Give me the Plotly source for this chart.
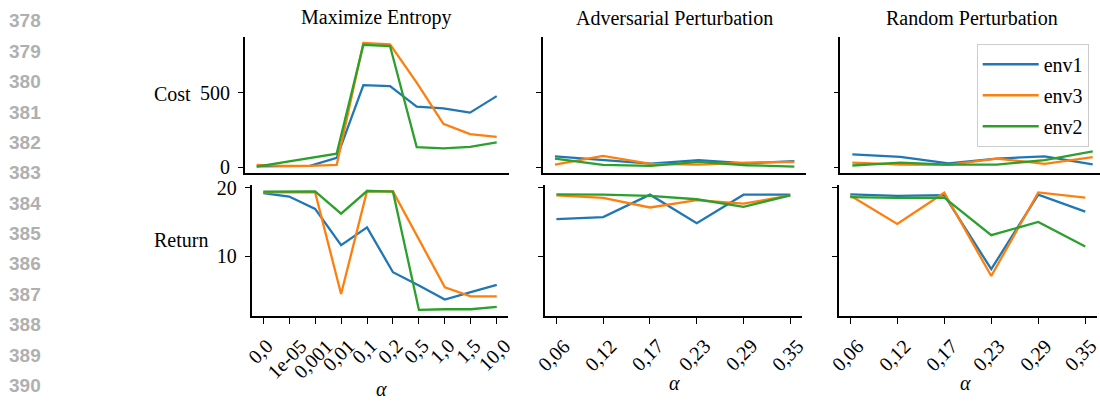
import plotly.graph_objects as go

W, H = 1100, 406

# ---------------- data ----------------
alpha_entropy = ["0,0", "1e-05", "0,001", "0,01", "0,1", "0,2", "0,5", "1,0", "1,5", "10,0"]
alpha_pert = ["0,06", "0,12", "0,17", "0,23", "0,29", "0,35"]

series_names = ["env1", "env3", "env2"]
series_colors = ["#1f77b4", "#ff7f0e", "#2ca02c"]

# Maximize Entropy
me_cost_env1 = [5, 6, 8, 63, 552, 545, 408, 395, 367, 478]
me_cost_env3 = [15, 8, 8, 15, 836, 826, 569, 291, 222, 204]
me_cost_env2 = [3, 32, 60, 91, 824, 815, 135, 126, 137, 167]
me_ret_env1 = [19.2, 18.7, 16.9, 11.6, 14.2, 7.65, 5.7, 3.66, 4.74, 5.8]
me_ret_env3 = [19.3, 19.3, 19.3, 4.46, 19.5, 19.45, 12.5, 5.45, 4.13, 4.13]
me_ret_env2 = [19.4, 19.4, 19.45, 16.2, 19.5, 19.4, 2.16, 2.25, 2.25, 2.6]

# Adversarial Perturbation
ap_cost_env1 = [73, 47, 24, 47, 26, 41]
ap_cost_env3 = [17, 76, 22, 17, 30, 35]
ap_cost_env2 = [58, 15, 9, 35, 13, 4]
ap_ret_env1 = [15.4, 15.7, 18.97, 14.8, 18.97, 18.97]
ap_ret_env3 = [18.87, 18.5, 17.1, 18.17, 17.65, 18.87]
ap_ret_env2 = [19.0, 18.97, 18.8, 18.3, 17.2, 18.87]

# Random Perturbation
rp_cost_env1 = [86, 69, 26, 58, 73, 19]
rp_cost_env3 = [30, 17, 15, 58, 22, 67]
rp_cost_env2 = [11, 30, 17, 17, 48, 106]
rp_ret_env1 = [19.0, 18.8, 18.9, 8.1, 18.97, 16.5]
rp_ret_env3 = [18.85, 14.7, 19.25, 7.1, 19.3, 18.55]
rp_ret_env2 = [18.6, 18.5, 18.55, 13.05, 15.0, 11.4]

titles = ["Maximize Entropy", "Adversarial Perturbation", "Random Perturbation"]
row_labels = ["Cost", "Return"]
x_label = "α"
line_numbers = [str(n) for n in range(378, 391)]

# ---------------- layout helpers ----------------
def px(x):
    return x / W

def py(y):
    return (H - y) / H

FONT = "Liberation Serif, Times New Roman, serif"

panels = [
    # (row, col, xlabels, [env1, env3, env2], x-domain px)
    (0, 0, alpha_entropy, [me_cost_env1, me_cost_env3, me_cost_env2], (244.7, 508.7)),
    (0, 1, alpha_pert, [ap_cost_env1, ap_cost_env3, ap_cost_env2], (543.0, 806.3)),
    (0, 2, alpha_pert, [rp_cost_env1, rp_cost_env3, rp_cost_env2], (840.3, 1100.0)),
    (1, 0, alpha_entropy, [me_ret_env1, me_ret_env3, me_ret_env2], (251.6, 508.4)),
    (1, 1, alpha_pert, [ap_ret_env1, ap_ret_env3, ap_ret_env2], (544.7, 802.0)),
    (1, 2, alpha_pert, [rp_ret_env1, rp_ret_env3, rp_ret_env2], (838.5, 1097.0)),
]

row_ydom = [(29.0, 169.5), (182.5, 317.7)]
row_yrange = [[-37, 876], [1.3, 20.35]]
row_yticks = [[0, 500], [10, 20]]

fig = go.Figure()
layout = dict(
    width=W, height=H,
    margin=dict(l=0, r=0, t=0, b=0),
    paper_bgcolor="white", plot_bgcolor="white",
    font=dict(family=FONT, size=20, color="black"),
    showlegend=True,
)
annotations = []

for i, (row, col, labels, ys, (x0, x1)) in enumerate(panels):
    k = i + 1
    xname = "x" if k == 1 else f"x{k}"
    yname = "y" if k == 1 else f"y{k}"
    n = len(labels)
    xs = list(range(n))
    if col == 2 and row == 0:
        xrange = [-0.25, (n - 1) + (1100 - 1092.7) / 48.1]
    else:
        m = 0.05 * (n - 1)
        xrange = [-m, (n - 1) + m]
    for s, (vals, name, color) in enumerate(zip(ys, series_names, series_colors)):
        fig.add_trace(go.Scatter(
            x=xs, y=vals, mode="lines", name=name,
            line=dict(color=color, width=2.3),
            xaxis=xname, yaxis=yname,
            legendgroup=name,
            showlegend=(row == 0 and col == 2),
        ))
    yd = row_ydom[row]
    layout["xaxis" if k == 1 else f"xaxis{k}"] = dict(
        domain=[px(x0), px(x1)], range=xrange, anchor=yname,
        showline=True, linecolor="black", linewidth=1.6,
        showgrid=False, zeroline=False,
        tickmode="array", tickvals=xs, ticktext=labels,
        ticks="outside" if row == 1 else "", ticklen=6, tickwidth=1.4, tickcolor="black",
        showticklabels=False,
    )
    layout["yaxis" if k == 1 else f"yaxis{k}"] = dict(
        domain=[py(yd[1]), py(yd[0])], range=row_yrange[row], anchor=xname,
        showline=True, linecolor="black", linewidth=1.6,
        showgrid=False, zeroline=False,
        tickmode="array", tickvals=row_yticks[row],
        ticks="outside", ticklen=5, tickwidth=1.4, tickcolor="black",
        showticklabels=(col == 0),
        tickfont=dict(family=FONT, size=20, color="black"),
        ticklabelstandoff=4,
    )
    # rotated tick labels (matplotlib-style centred rotation)
    if row == 1:
        for xi, lab in zip(xs, labels):
            edge = (col == 2 and xi == n - 1)
            annotations.append(dict(
                x=xi, y=py(336), xref=xname, yref="paper",
                text=lab, showarrow=False, textangle=-45,
                xanchor="center", yanchor="top",
                xshift=-5 if edge else -2.5, borderpad=0,
                font=dict(family=FONT, size=20, color="black"),
            ))

# titles
title_x = [376, 674.5, 971.7]
for t, xc in zip(titles, title_x):
    annotations.append(dict(x=px(xc), y=py(9), xref="paper", yref="paper",
                            text=t, showarrow=False, xanchor="center", yanchor="middle",
                            font=dict(family=FONT, size=20, color="black")))

# row labels
annotations.append(dict(x=px(152), y=py(88.5), xref="paper", yref="paper", text=row_labels[0],
                        showarrow=False, xanchor="left", yanchor="middle",
                        font=dict(family=FONT, size=20, color="black")))
annotations.append(dict(x=px(152), y=py(239.5), xref="paper", yref="paper", text=row_labels[1],
                        showarrow=False, xanchor="left", yanchor="middle",
                        font=dict(family=FONT, size=20, color="black")))

# x labels
for xc, yc in [(381, 394), (674, 387), (965, 387)]:
    annotations.append(dict(x=px(xc), y=py(yc), xref="paper", yref="paper",
                            text="<i>" + x_label + "</i>", showarrow=False,
                            xanchor="center", yanchor="middle",
                            font=dict(family=FONT, size=20, color="black")))

# manuscript line numbers
for j, ln in enumerate(line_numbers):
    annotations.append(dict(x=px(25), y=py(12.3 + 31.47 * j), xref="paper", yref="paper",
                            text="<b>" + ln + "</b>", showarrow=False,
                            xanchor="center", yanchor="middle",
                            font=dict(family="Liberation Sans, Arial, sans-serif", size=19,
                                      color="#b0b0b0")))

layout["annotations"] = annotations
layout["legend"] = dict(
    x=px(976.7), y=py(36), xanchor="left", yanchor="top",
    bgcolor="rgba(255,255,255,0.85)", bordercolor="#cccccc", borderwidth=1,
    font=dict(family=FONT, size=20, color="black"),
    tracegroupgap=2, itemwidth=56,
)
fig.update_layout(**layout)
fig.write_html("out.html")
